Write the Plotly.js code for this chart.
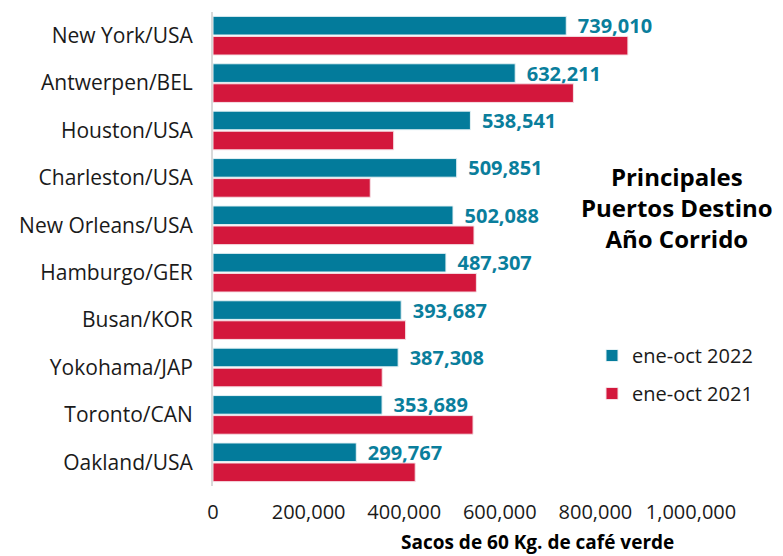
<!DOCTYPE html>
<html>
<head>
<meta charset="utf-8">
<script src="https://cdn.plot.ly/plotly-3.0.1.min.js"></script>
<style>html,body{margin:0;padding:0;background:#fff;}#chart{width:783px;height:556px;}</style>
</head>
<body>
<div id="chart"></div>
<script>
const ports = ["New York/USA","Antwerpen/BEL","Houston/USA","Charleston/USA","New Orleans/USA","Hamburgo/GER","Busan/KOR","Yokohama/JAP","Toronto/CAN","Oakland/USA"];
const values2022 = [739010, 632211, 538541, 509851, 502088, 487307, 393687, 387308, 353689, 299767];
const values2021 = [868000, 754000, 378000, 329000, 546000, 551000, 403000, 354000, 544000, 423000];
const xTicks = [0, 200000, 400000, 600000, 800000, 1000000];
const xTickLabels = ["0", "200,000", "400,000", "600,000", "800,000", "1,000,000"];

const FONT = "Open Sans, sans-serif";
const fmt = v => '\u00a0\u2009' + v.toLocaleString('en-US');

const traces = [
  {
    type: 'bar', orientation: 'h', name: 'ene-oct 2022',
    y: ports, x: values2022,
    marker: {color: '#037B9B', line: {color: '#e6f2f5', width: 1}},
    text: values2022.map(fmt), textposition: 'outside', constraintext: 'none', cliponaxis: false,
    textfont: {family: FONT, size: 20, color: '#0A7E9C', weight: 'bold'},
    legendgroup: 'a', hoverinfo: 'x+y'
  },
  {
    type: 'bar', orientation: 'h', name: 'ene-oct 2021',
    y: ports, x: values2021,
    marker: {color: '#D3173C', line: {color: '#f5e0e5', width: 1}},
    legendgroup: 'b', hoverinfo: 'x+y'
  }
];

const layout = {
  width: 783, height: 556,
  margin: {l: 213, r: 92, t: 12, b: 70},
  paper_bgcolor: '#fff', plot_bgcolor: '#fff',
  barmode: 'group', bargap: 0.155, bargroupgap: 0.07,
  font: {family: FONT, color: '#1a1a1a'},
  xaxis: {
    range: [0, 1000000], tickvals: xTicks, ticktext: xTickLabels,
    showgrid: false, zeroline: false, showline: false,
    tickfont: {family: FONT, size: 20, color: '#1a1a1a'},
    ticklabelstandoff: 12
  },
  yaxis: {
    autorange: 'reversed', showgrid: false, zeroline: false,
    showline: true, linecolor: '#d9d9d9', linewidth: 2,
    tickfont: {family: FONT, size: 21, color: '#1a1a1a'},
    ticklabelstandoff: 14
  },
  showlegend: true,
  legend: {
    traceorder: 'grouped', xanchor: 'left', yanchor: 'top',
    font: {family: FONT, size: 20, color: '#1a1a1a'},
    tracegroupgap: 9, itemwidth: 30
  },
  annotations: [
    {text: '<b>Principales<br>Puertos Destino<br>Año Corrido</b>', xref: 'paper', yref: 'paper',
     x: (677 - 213) / 478, y: (486 - 208) / 474, xanchor: 'center', yanchor: 'middle',
     showarrow: false, align: 'center', font: {family: FONT, size: 24, color: '#000'}},
    {text: '<b>Sacos de 60 Kg. de café verde</b>', xref: 'paper', yref: 'paper',
     x: (537 - 213) / 478, y: -(542 - 486) / 474, xanchor: 'center', yanchor: 'middle',
     showarrow: false, font: {family: FONT, size: 19, color: '#000'}}
  ]
};
layout.legend.x = (592 - 213) / 478;
layout.legend.y = (486 - 336) / 474;

Plotly.newPlot('chart', traces, layout, {displayModeBar: false, staticPlot: true});
</script>
</body>
</html>
